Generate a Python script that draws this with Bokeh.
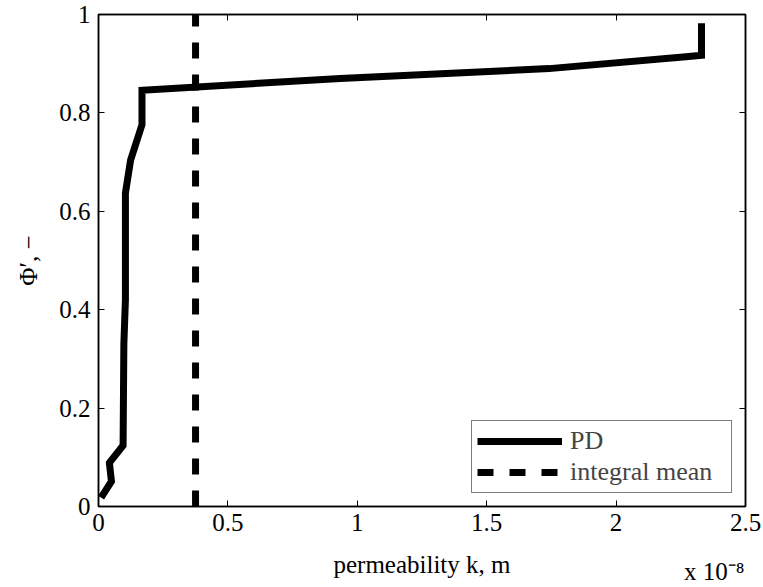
from bokeh.plotting import figure
from bokeh.models import Range1d, LinearAxis, FixedTicker, Legend
from bokeh.embed import file_html
from bokeh.resources import INLINE

# ---- data (k in units of 1e-8 m) ----
k_pd = [0.010, 0.050, 0.042, 0.095, 0.098, 0.104, 0.104, 0.124, 0.168, 0.168,
        0.934, 1.741, 2.270, 2.330, 2.330]
phi_pd = [0.018, 0.051, 0.089, 0.124, 0.330, 0.420, 0.637, 0.704, 0.776, 0.846,
          0.870, 0.890, 0.914, 0.917, 0.982]
k_mean = [0.375, 0.375]
phi_mean = [0.0, 1.0]

x_ticks = [0, 0.5, 1, 1.5, 2, 2.5]
x_tick_labels = ["0", "0.5", "1", "1.5", "2", "2.5"]
y_ticks = [0, 0.2, 0.4, 0.6, 0.8, 1]
y_tick_labels = ["0", "0.2", "0.4", "0.6", "0.8", "1"]

series_names = ["PD", "integral mean"]
x_label = "permeability k, m"
x_scale_label = "x 10\u207b\u2078"
y_label = "\u03a6\u2032, \u2212"

FONT = "Liberation Serif"
FS = "25px"

p = figure(width=763, height=587, output_backend="svg", toolbar_location=None,
           x_range=Range1d(0, 2.5), y_range=Range1d(0, 1),
           min_border_left=98, min_border_right=18, min_border_top=14,
           min_border_bottom=80, background_fill_color="white",
           border_fill_color="white")

p.xgrid.visible = False
p.ygrid.visible = False
p.outline_line_color = "black"
p.outline_line_width = 1.5


def style_axis(ax, ticks, labels):
    ax.ticker = FixedTicker(ticks=ticks)
    ax.major_label_overrides = {t: l for t, l in zip(ticks, labels)}
    ax.major_tick_in = 6
    ax.major_tick_out = 0
    ax.minor_tick_line_color = None
    ax.axis_line_color = "black"
    ax.axis_line_width = 1.5
    ax.major_tick_line_color = "black"
    ax.major_tick_line_width = 1
    ax.major_label_text_font = FONT
    ax.major_label_text_font_size = FS
    ax.major_label_text_color = "black"
    ax.axis_label_text_font = FONT
    ax.axis_label_text_font_size = FS
    ax.axis_label_text_font_style = "normal"
    ax.axis_label_text_color = "black"


style_axis(p.xaxis[0], x_ticks, x_tick_labels)
style_axis(p.yaxis[0], y_ticks, y_tick_labels)
p.xaxis[0].major_label_standoff = 7
p.xaxis[0].axis_label = x_label
p.xaxis[0].axis_label_standoff = 17
p.yaxis[0].major_label_standoff = 8
p.yaxis[0].axis_label = y_label
p.yaxis[0].axis_label_standoff = 14

# scale factor row (label-only axis sharing the bottom row); the label is
# centred on the axis end, so non-breaking spaces push the visible text left
scale_ax = LinearAxis()
style_axis(scale_ax, x_ticks, x_tick_labels)
scale_ax.axis_line_color = None
scale_ax.major_tick_line_color = None
scale_ax.major_tick_in = 0
scale_ax.major_label_text_color = None
scale_ax.major_label_standoff = 0
scale_ax.axis_label = x_scale_label + "\u00a0" * 10
scale_ax.axis_label_align = "end"
scale_ax.axis_label_standoff = -23
p.add_layout(scale_ax, "below")

# box ticks on top and right (no labels)
top = LinearAxis()
style_axis(top, x_ticks, x_tick_labels)
top.major_label_text_color = None
top.major_label_standoff = 0
p.add_layout(top, "above")
right = LinearAxis()
style_axis(right, y_ticks, y_tick_labels)
right.major_label_text_color = None
right.major_label_standoff = 0
p.add_layout(right, "right")

r1 = p.line(k_pd, phi_pd, line_width=7, line_color="black", line_join="miter")
r2 = p.line(k_mean, phi_mean, line_width=7, line_color="black", line_dash="16 16")

legend = Legend(items=[(series_names[0], [r1]), (series_names[1], [r2])],
                location="bottom_right", margin=13, padding=5, spacing=1,
                glyph_width=85, glyph_height=30, label_height=30, label_width=156,
                label_standoff=8, label_text_font=FONT, label_text_font_size="26px",
                border_line_color="black", border_line_width=1,
                background_fill_color="white", background_fill_alpha=1.0)
p.add_layout(legend)

open("out.html", "w").write(file_html(p, INLINE))
